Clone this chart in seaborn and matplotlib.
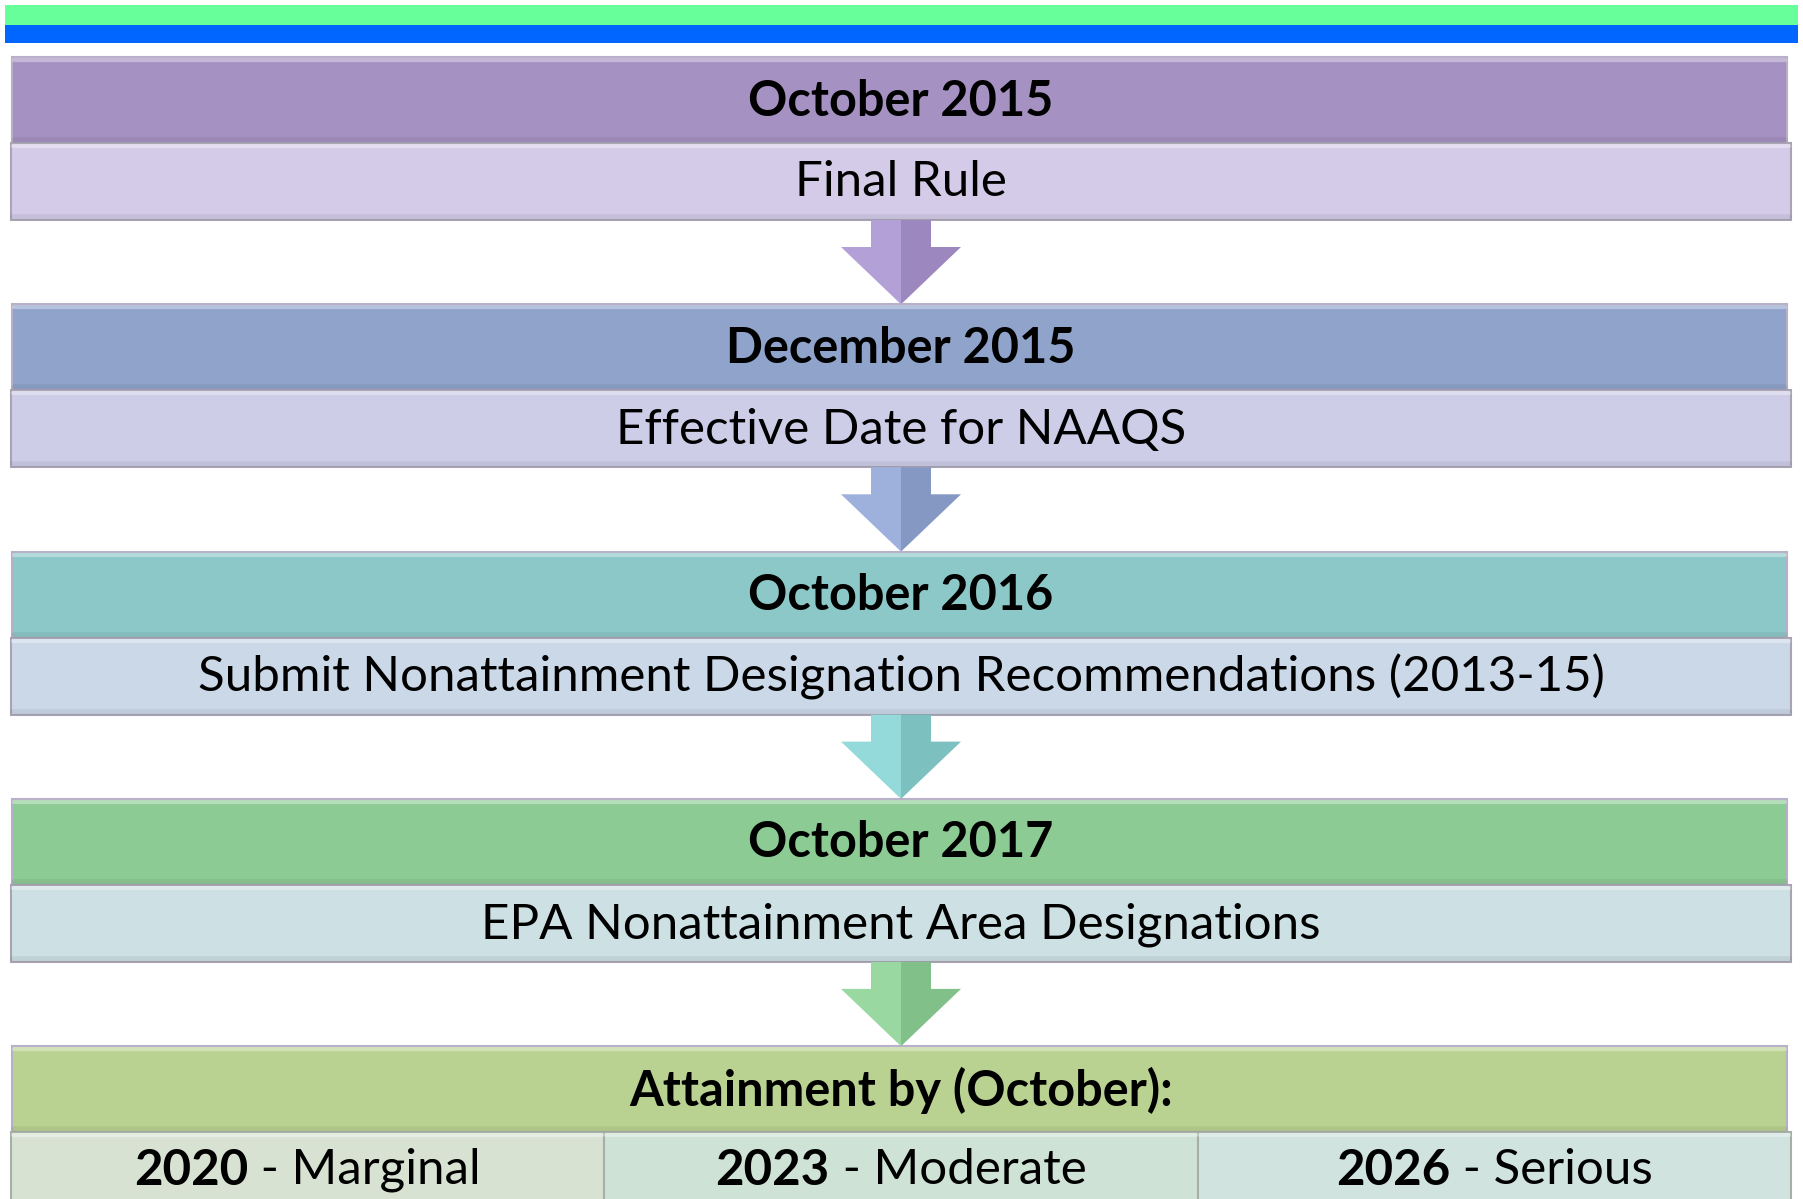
import matplotlib
matplotlib.use("Agg")
import matplotlib.pyplot as plt
import seaborn as sns
from matplotlib.patches import Rectangle, Polygon

# ---------------- data ----------------
headers = ["October 2015", "December 2015", "October 2016", "October 2017",
           "Attainment by (October):"]
descriptions = ["Final Rule", "Effective Date for NAAQS",
                "Submit Nonattainment Designation Recommendations (2013-15)",
                "EPA Nonattainment Area Designations"]
attain_years = ["2020", "2023", "2026"]
attain_classes = ["Marginal", "Moderate", "Serious"]

header_colors = ["#A591C2", "#8FA3CB", "#8DC8C8", "#8DCB95", "#BAD291"]
desc_colors = ["#D3CBE8", "#CDCDE8", "#CBD8E8", "#CDE0E3"]
arrow_colors = ["#B3A0D6", "#9DB1DC", "#95DADA", "#99D8A0"]
arrow_dark = ["#9C88BE", "#8598C4", "#7DC0C0", "#82C089"]
cell_colors = ["#D8E2D3", "#CFE2D6", "#D0E3DE"]
band_colors = ["#66FF99", "#0066FF"]

# ---------------- layout ----------------
W, H = 1803, 1199
sns.set_theme(style="white")
plt.rcParams['font.family'] = ['Lato', 'DejaVu Sans']

fig = plt.figure(figsize=(W / 100, H / 100), dpi=100)
ax = fig.add_axes([0, 0, 1, 1])
ax.set_xlim(0, W)
ax.set_ylim(H, 0)
ax.axis("off")

x0, x1 = 12, 1790
xc = (x0 + x1) / 2
top0 = 57
pitch = 247.3
hh = 86
dh = 77

# top bands
ax.add_patch(Rectangle((5, 5), 1793, 20, facecolor=band_colors[0], edgecolor="none"))
ax.add_patch(Rectangle((5, 25), 1793, 18, facecolor=band_colors[1], edgecolor="none"))

HFS = 35
DFS = 35.5


def bevel_box(x, y, w, h, color, edge):
    ax.add_patch(Rectangle((x, y), w, h, facecolor=color, edgecolor=edge, lw=1.5))
    # light top line and darker bottom for a subtle bevel
    ax.plot([x + 2, x + w - 2], [y + 3, y + 3], color="white", alpha=0.35, lw=3)
    ax.plot([x + 2, x + w - 2], [y + h - 3, y + h - 3], color="black", alpha=0.06, lw=4)


for i, head in enumerate(headers):
    ytop = top0 + i * pitch
    bevel_box(x0, ytop, x1 - x0 - 3, hh, header_colors[i], "#B8B0C8")
    ax.text(xc, ytop + hh / 2 + 1, head, ha="center", va="center",
            fontsize=HFS, fontweight="bold", color="black")
    ydesc = ytop + hh
    if i < len(descriptions):
        bevel_box(x0 - 1, ydesc, x1 - x0 + 2, dh, desc_colors[i], "#A8A4B4")
        ax.text(xc, ydesc + dh / 2 + 1, descriptions[i], ha="center", va="center",
                fontsize=DFS, color="black")
        # arrow
        ys = ydesc + dh
        yh = ys + 27
        ytip = top0 + (i + 1) * pitch
        sw, hw = 30, 60
        left = [(xc - sw, ys), (xc, ys), (xc, ytip), (xc - hw, yh), (xc - sw, yh)]
        right = [(xc, ys), (xc + sw, ys), (xc + sw, yh), (xc + hw, yh), (xc, ytip)]
        ax.add_patch(Polygon(left, closed=True, facecolor=arrow_colors[i], edgecolor="none"))
        ax.add_patch(Polygon(right, closed=True, facecolor=arrow_dark[i], edgecolor="none"))
    else:
        n = len(attain_years)
        cw = (x1 - x0 + 2) / n
        fig.canvas.draw()
        renderer = fig.canvas.get_renderer()
        for j in range(n):
            cx = x0 - 1 + j * cw
            bevel_box(cx, ydesc, cw, 90, cell_colors[j], "#A8AFA8")
            t1 = ax.text(0, ydesc + 38, attain_years[j], ha="left", va="center",
                         fontsize=DFS, fontweight="bold", color="black")
            t2 = ax.text(0, ydesc + 38, " - " + attain_classes[j], ha="left", va="center",
                         fontsize=DFS, color="black")
            w1 = t1.get_window_extent(renderer).width
            w2 = t2.get_window_extent(renderer).width
            start = cx + cw / 2 - (w1 + w2) / 2
            t1.set_x(start)
            t2.set_x(start + w1)

fig.savefig("out.png", dpi=100)
